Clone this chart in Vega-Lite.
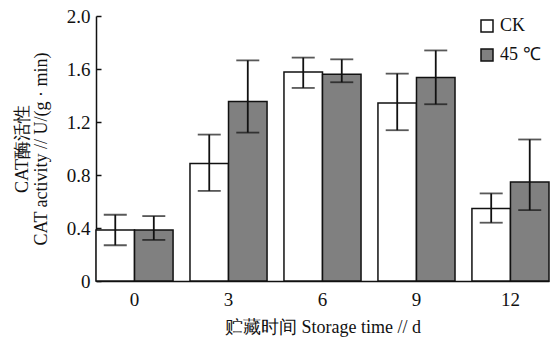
{
  "$schema": "https://vega.github.io/schema/vega-lite/v6.json",
  "width": 453,
  "height": 265,
  "autosize": {"type": "none"},
  "padding": {"left": 96, "top": 16, "right": 1, "bottom": 62},
  "background": "white",
  "config": {
    "view": {"stroke": null},
    "font": "Liberation Serif",
    "legend": {"labelFont": "Liberation Serif", "labelFontSize": 18, "labelColor": "#111"},
    "axis": {"labelFont": "Liberation Serif", "titleFont": "Liberation Serif", "labelColor": "#111", "titleColor": "#111", "domainColor": "#111", "tickColor": "#111", "grid": false}
  },
  "data": {
    "values": [
      {"day": "0", "group": "CK", "mean": 0.385, "lo": 0.27, "hi": 0.50},
      {"day": "0", "group": "45  ℃", "mean": 0.385, "lo": 0.31, "hi": 0.49},
      {"day": "3", "group": "CK", "mean": 0.887, "lo": 0.68, "hi": 1.105},
      {"day": "3", "group": "45  ℃", "mean": 1.354, "lo": 1.12, "hi": 1.665},
      {"day": "6", "group": "CK", "mean": 1.577, "lo": 1.457, "hi": 1.686},
      {"day": "6", "group": "45  ℃", "mean": 1.56, "lo": 1.50, "hi": 1.673},
      {"day": "9", "group": "CK", "mean": 1.344, "lo": 1.138, "hi": 1.565},
      {"day": "9", "group": "45  ℃", "mean": 1.535, "lo": 1.334, "hi": 1.74},
      {"day": "12", "group": "CK", "mean": 0.548, "lo": 0.44, "hi": 0.661},
      {"day": "12", "group": "45  ℃", "mean": 0.748, "lo": 0.535, "hi": 1.068}
    ]
  },
  "encoding": {
    "x": {
      "field": "day", "type": "nominal", "sort": ["0", "3", "6", "9", "12"],
      "scale": {"paddingInner": 0.18, "paddingOuter": 0},
      "axis": {"labelAngle": 0, "ticks": false, "labelFontSize": 19, "labelPadding": 9, "domainWidth": 1.5,
        "title": "贮藏时间 Storage time // d", "titleFontSize": 18, "titleFontWeight": "normal", "titlePadding": 9}
    },
    "xOffset": {"field": "group", "type": "nominal", "sort": ["CK", "45  ℃"], "scale": {"paddingInner": 0, "paddingOuter": 0}}
  },
  "layer": [
    {
      "mark": {"type": "bar", "stroke": "#111", "strokeWidth": 1.5},
      "encoding": {
        "y": {
          "field": "mean", "type": "quantitative",
          "scale": {"domain": [0, 2.0], "nice": false},
          "axis": {"values": [0, 0.4, 0.8, 1.2, 1.6, 2.0], "labelExpr": "datum.value == 0 ? '0' : format(datum.value, '.1f')", "labelFontSize": 19, "tickSize": -5, "tickWidth": 1.5, "domainWidth": 1.5, "labelPadding": 11,
            "title": ["CAT酶活性", "CAT activity // U/(g · min)"], "titleFontSize": 18, "titleFontWeight": "normal", "titlePadding": 16, "titleLineHeight": 19}
        },
        "fill": {
          "field": "group", "type": "nominal", "sort": ["CK", "45  ℃"],
          "scale": {"domain": ["CK", "45  ℃"], "range": ["#ffffff", "#808080"]},
          "legend": {"title": null, "orient": "none", "legendX": 382, "legendY": 1, "padding": 0, "symbolType": "square", "symbolSize": 144, "symbolStrokeColor": "#111", "symbolStrokeWidth": 1.5, "labelFontSize": 18, "labelFont": "Liberation Serif", "labelColor": "#111", "labelOffset": 4, "rowPadding": 11}
        }
      }
    },
    {
      "mark": {"type": "rule", "stroke": "#111", "strokeWidth": 1.8},
      "encoding": {
        "y": {"field": "lo", "type": "quantitative"},
        "y2": {"field": "hi"}
      }
    },
    {
      "mark": {"type": "tick", "color": "#111", "thickness": 1.8, "size": 23, "orient": "horizontal"},
      "encoding": {"y": {"field": "lo", "type": "quantitative"}}
    },
    {
      "mark": {"type": "tick", "color": "#111", "thickness": 1.8, "size": 23, "orient": "horizontal"},
      "encoding": {"y": {"field": "hi", "type": "quantitative"}}
    }
  ]
}
